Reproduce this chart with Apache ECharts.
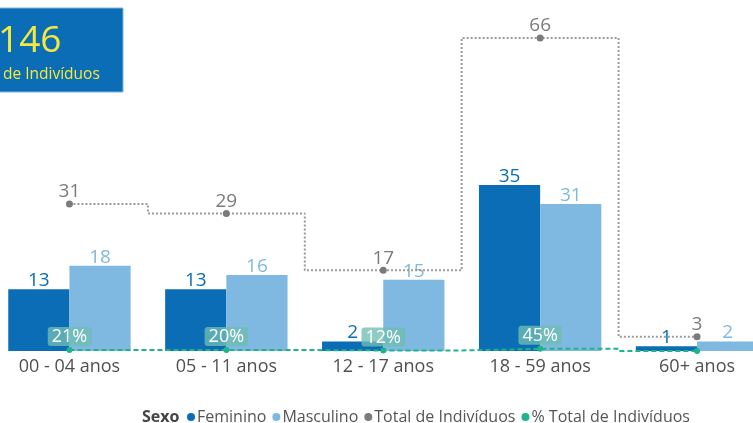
<!DOCTYPE html>
<html>
<head>
<meta charset="utf-8">
<script src="https://cdn.jsdelivr.net/npm/echarts@6/dist/echarts.min.js"></script>
<style>
html,body{margin:0;padding:0;background:#fff;}
#main{width:753px;height:423px;}
</style>
</head>
<body>
<div id="main"></div>
<script>
var categories = ['00 - 04 anos', '05 - 11 anos', '12 - 17 anos', '18 - 59 anos', '60+ anos'];
var feminino = [13, 13, 2, 35, 1];
var masculino = [18, 16, 15, 31, 2];
var totalIndividuos = [31, 29, 17, 66, 3];
var pctTotal = [0.21, 0.20, 0.12, 0.45, 0.02];
var pctLabelShown = [true, true, true, true, false];
var legendTitle = 'Sexo';
var boxSubtitle = 'de Indivíduos';

var grandTotal = totalIndividuos.reduce(function (a, b) { return a + b; }, 0);
var FONT = '"Open Sans"';

var chart = echarts.init(document.getElementById('main'));
chart.setOption({
  animation: false,
  textStyle: { fontFamily: FONT },
  title: {
    text: legendTitle,
    left: 137, top: 404,
    textStyle: { fontFamily: FONT, fontSize: 16, fontWeight: 'bold', color: '#444' }
  },
  legend: {
    left: 182, top: 404,
    icon: 'circle', itemWidth: 8, itemHeight: 8, itemGap: 6,
    textStyle: { fontFamily: FONT, fontSize: 16, color: '#555', padding: [0, 0, 0, -3] },
    data: ['Feminino', 'Masculino', 'Total de Indivíduos', '% Total de Indivíduos']
  },
  grid: { left: -9, width: 784.5, top: 19, bottom: 72, containLabel: false, outerBoundsMode: 'none' },
  xAxis: {
    type: 'category',
    data: categories,
    axisLine: { show: false },
    axisTick: { show: false },
    axisLabel: { fontFamily: FONT, fontSize: 18, color: '#505050', margin: 7 }
  },
  yAxis: { type: 'value', min: 0, max: 70, show: false, splitLine: { show: false } },
  graphic: [
    { type: 'rect', shape: { x: -5, y: 8, width: 128, height: 84 },
      style: { fill: '#0b6db5', stroke: '#7ab6e2', lineWidth: 1 }, z: 10 },
    { type: 'text', x: -2, y: 23, z: 11,
      style: { text: String(grandTotal), fill: '#f4e93c', font: '37px ' + FONT } },
    { type: 'text', x: 3, y: 67, z: 11,
      style: { text: boxSubtitle, fill: '#f4e93c', font: '15.5px ' + FONT } }
  ],
  series: [
    {
      name: 'Feminino', type: 'bar', data: feminino,
      barGap: 0, barCategoryGap: '22%',
      itemStyle: { color: '#0b6db5' },
      label: { show: true, position: 'top', distance: -1, fontFamily: FONT, fontSize: 19, color: '#0b6db5' },
      z: 2
    },
    {
      name: 'Masculino', type: 'bar', data: masculino,
      itemStyle: { color: '#7fb8e0' },
      label: { show: true, position: 'top', distance: -1, fontFamily: FONT, fontSize: 19, color: '#7fb8e0' },
      z: 2
    },
    {
      name: 'Total de Indivíduos', type: 'line', data: totalIndividuos,
      step: 'middle', symbol: 'circle', symbolSize: 7,
      itemStyle: { color: '#7b7b7b' },
      lineStyle: { color: '#9a9a9a', width: 2, type: [2, 2] },
      label: { show: true, position: 'top', distance: -1, fontFamily: FONT, fontSize: 19, color: '#7b7b7b' },
      z: 3
    },
    {
      name: '% Total de Indivíduos', type: 'line',
      data: pctTotal.map(function (v, i) {
        return { value: v, label: { show: pctLabelShown[i] } };
      }),
      step: 'middle', symbol: 'circle', symbolSize: 6,
      itemStyle: { color: '#1fb38a' },
      lineStyle: { color: '#1fb38a', width: 2, type: [5, 3] },
      label: {
        show: true, position: 'top', distance: 1,
        fontFamily: FONT, fontSize: 18, lineHeight: 18, color: '#fff',
        backgroundColor: 'rgba(112,190,178,0.78)', borderRadius: 3, padding: [1, 4, 0, 4],
        formatter: function (p) { return Math.round(p.value * 100) + '%'; }
      },
      z: 4
    }
  ]
});
</script>
</body>
</html>
